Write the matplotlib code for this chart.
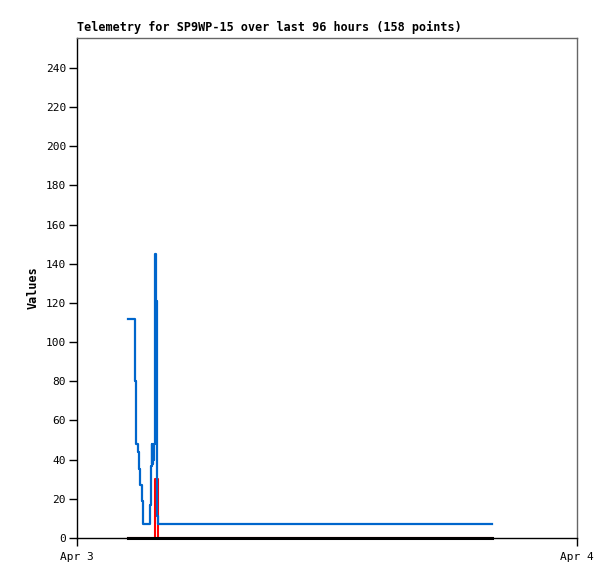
import matplotlib
matplotlib.use("Agg")
import matplotlib.pyplot as plt

# time in hours since Apr 3 00:00
blue_t = [2.45, 2.78, 2.83, 2.93, 2.99, 3.04, 3.11, 3.17, 3.50, 3.55, 3.59, 3.62, 3.64, 3.66,
          3.69, 3.73, 3.78, 3.82, 3.85, 3.90, 19.92]
blue_v = [112, 80, 48, 44, 35, 27, 19, 7, 17, 37, 48, 38, 48, 40,
          48, 145, 121, 76, 11, 7, 7]

red_t = [2.45, 3.73, 3.89, 19.92]
red_v = [0, 30, 0, 0]

black_t = [2.45, 19.92]
black_v = [0, 0]

yticks = list(range(0, 241, 20))
xtick_pos = [0, 24]
xtick_labels = ["Apr 3", "Apr 4"]
title = "Telemetry for SP9WP-15 over last 96 hours (158 points)"

plt.rcParams['font.family'] = ['DejaVu Sans Mono']

fig = plt.figure(figsize=(6.15, 5.79), dpi=100)
ax = fig.add_axes([77/615, 41/579, 500/615, 500/579])

ax.plot(red_t, red_v, color="#ff0000", lw=1.5, drawstyle="steps-post", zorder=3)
ax.plot(blue_t, blue_v, color="#0066cc", lw=1.6, drawstyle="steps-post", zorder=4)
ax.plot(black_t, black_v, color="black", lw=2.2, drawstyle="steps-post", zorder=6, clip_on=False)

ax.set_xlim(0, 24)
ax.set_ylim(0, 255.3)
ax.set_yticks(yticks)
ax.set_xticks(xtick_pos)
ax.set_xticklabels(xtick_labels)
ax.tick_params(axis="both", direction="out", length=6, width=1, labelsize=8, pad=4)
ax.tick_params(axis="y", pad=2)

for s in ["top", "right"]:
    ax.spines[s].set_color("#666666")
for s in ["left", "bottom"]:
    ax.spines[s].set_color("black")
for s in ax.spines.values():
    s.set_linewidth(1)

fig.text(77/615, 1 - 31/579, title, fontsize=8.5, fontweight="bold", ha="left", va="baseline")
ax.set_ylabel("Values", fontsize=8.5, fontweight="bold", labelpad=4)

fig.savefig("out.png", dpi=100, facecolor="white")
